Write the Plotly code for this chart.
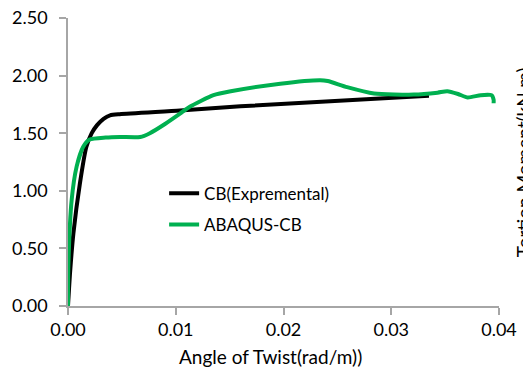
import plotly.graph_objects as go

cb_x = [0, 0.0002, 0.0005, 0.0011, 0.0017, 0.0022, 0.0027, 0.0033, 0.0039, 0.0048, 0.0104, 0.016, 0.0335]
cb_y = [0, 0.30, 0.63, 1.06, 1.38, 1.50, 1.57, 1.625, 1.655, 1.665, 1.696, 1.733, 1.826]

ab_x = [0, 0.00003, 0.00034, 0.0008, 0.0014, 0.002, 0.0035, 0.0048, 0.0067, 0.0076, 0.009, 0.0104,
        0.0113, 0.0135, 0.0151, 0.0197, 0.0234, 0.0241, 0.0259, 0.0284, 0.0321, 0.0343, 0.0352,
        0.0362, 0.0371, 0.0383, 0.0393, 0.0395, 0.0395]
ab_y = [0, 0.34, 0.92, 1.21, 1.38, 1.445, 1.462, 1.467, 1.467, 1.50, 1.58, 1.67,
        1.73, 1.83, 1.864, 1.93, 1.96, 1.953, 1.90, 1.845, 1.835, 1.852, 1.864,
        1.84, 1.81, 1.83, 1.83, 1.79, 1.76]

x_ticks = [0, 0.01, 0.02, 0.03, 0.04]
x_labels = ["0.00", "0.01", "0.02", "0.03", "0.04"]
y_ticks = [0, 0.5, 1.0, 1.5, 2.0, 2.5]
y_labels = ["0.00", "0.50", "1.00", "1.50", "2.00", "2.50"]

FONT = "Lato"

fig = go.Figure()
fig.add_trace(go.Scatter(x=cb_x, y=cb_y, mode="lines", name="CB(Expremental)",
                         line=dict(color="#000000", width=4, shape="spline", smoothing=0.6),
                         legendgroup="a"))
fig.add_trace(go.Scatter(x=ab_x, y=ab_y, mode="lines", name="ABAQUS-CB",
                         line=dict(color="#00B050", width=4, shape="spline", smoothing=0.6),
                         legendgroup="b"))

axis_common = dict(showgrid=False, zeroline=False, showline=True, linecolor="#A6A6A6",
                   linewidth=1.5, ticks="outside", tickcolor="#A6A6A6", ticklen=7, tickwidth=1.5,
                   automargin=False)

fig.update_layout(
    width=523, height=372,
    margin=dict(l=68, r=24, t=18, b=66),
    paper_bgcolor="white", plot_bgcolor="white",
    font=dict(family=FONT, color="#000000"),
    xaxis=dict(range=[0, 0.04], tickvals=x_ticks, ticktext=x_labels,
               tickfont=dict(size=18, family=FONT),
               **axis_common),
    yaxis=dict(range=[0, 2.5], tickvals=y_ticks, ticktext=y_labels,
               tickfont=dict(size=18, family=FONT), ticklabelstandoff=8,
               **axis_common),
    legend=dict(x=0.223, y=0.452, xanchor="left", yanchor="top", bgcolor="rgba(0,0,0,0)",
                font=dict(size=17, family=FONT), tracegroupgap=6),
    showlegend=True,
)

fig.add_annotation(text="Angle of Twist(rad/m))", xref="paper", yref="paper",
                   x=0.469, y=-0.177, xanchor="center", yanchor="middle",
                   showarrow=False, font=dict(size=19, family=FONT))

fig.add_annotation(text="Tortion Moment(kN.m)", xref="paper", yref="paper",
                   x=1.056, y=0.5, xanchor="center", yanchor="middle", textangle=-90,
                   showarrow=False, font=dict(size=19, family=FONT))

fig.write_html("out.html", config={"displayModeBar": False},
               post_script="document.body.style.margin='0';document.body.style.padding='0';")
